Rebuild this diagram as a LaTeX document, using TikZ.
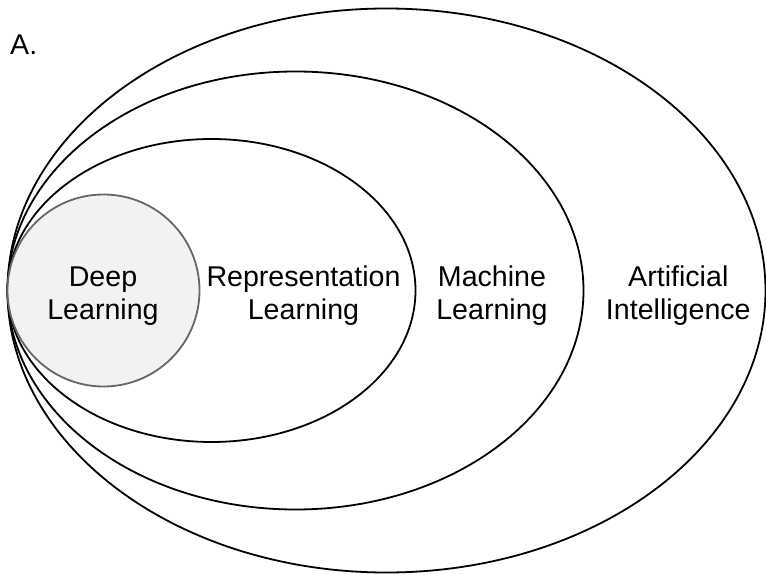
\documentclass[tikz,border=0pt]{standalone}
\usepackage{fontspec}
\setmainfont{Liberation Sans}
\usetikzlibrary{positioning}
\definecolor{deepfill}{HTML}{F2F2F2}
\definecolor{deepline}{HTML}{666666}
\tikzset{
  ring/.style={draw=black, line width=1.8pt},
  deepring/.style={circle, draw=deepline, fill=deepfill, line width=1.8pt,
    minimum size=192pt, inner sep=0pt},
  fieldlabel/.style={align=center, font=\fontsize{28.6}{33}\selectfont, inner sep=0pt}
}
\begin{document}
\begin{tikzpicture}[x=1pt, y=1pt]
  \useasboundingbox (0,0) rectangle (766,574);
  % nested sets, all touching at the left
  \draw[ring] (386.5,283.5) ellipse [x radius=379, y radius=282];
  \draw[ring] (295.5,283.5) ellipse [x radius=288, y radius=219];
  \draw[ring] (211.5,283.5) ellipse [x radius=204, y radius=151.5];
  \node[deepring] (deep) at (103.5,283.5) {};
  % labels
  \node[fieldlabel] (dl) at (103,278) {Deep\\Learning};
  \node[fieldlabel] (rl) at (303.5,278) {Representation\\Learning};
  \node[fieldlabel] (ml) at (492,278) {Machine\\Learning};
  \node[fieldlabel] (ai) at (678.3,278) {Artificial\\Intelligence};
  \node[font=\fontsize{28.6}{33}\selectfont, anchor=base west, inner sep=0pt] (tag) at (10,519) {A.};
\end{tikzpicture}
\end{document}
